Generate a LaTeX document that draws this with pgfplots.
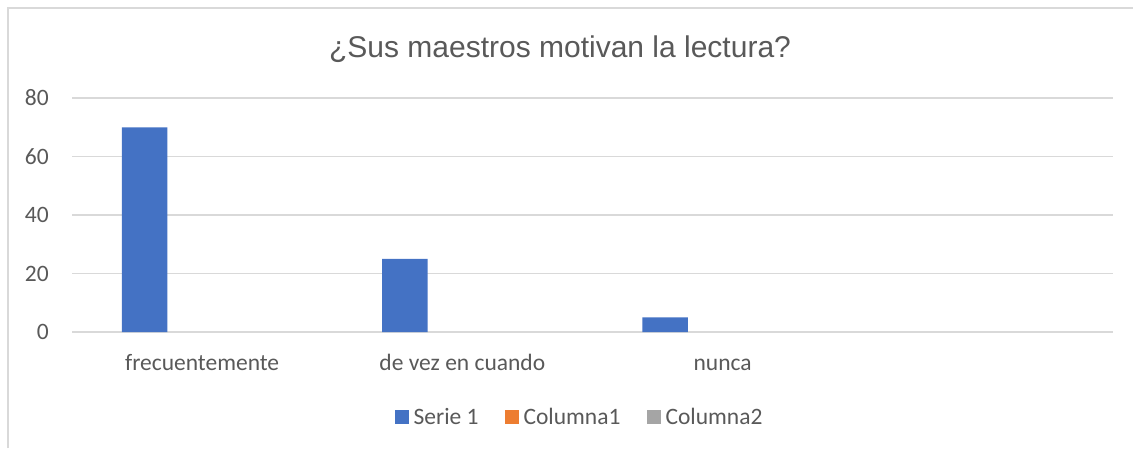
\documentclass[border=0pt]{standalone}
\usepackage{fontspec}
\setmainfont{Carlito}
\newfontfamily\titlefont{Liberation Sans}
\usepackage{pgfplots}
\pgfplotsset{compat=1.18}
\definecolor{serA}{HTML}{4472C4}
\definecolor{serB}{HTML}{ED7D31}
\definecolor{serC}{HTML}{A5A5A5}
\definecolor{txt}{HTML}{595959}
\definecolor{gridc}{HTML}{D9D9D9}
\begin{document}
\begin{tikzpicture}
\path[use as bounding box] (0,0) rectangle (1133pt,448pt);
\draw[gridc, line width=1.5pt] (8pt,0) -- (8pt,440pt) -- (1133pt,440pt);
\node[anchor=base, text=txt, font=\titlefont\fontsize{30}{36}\selectfont]
  at (560pt,390pt) {¿Sus maestros motivan la lectura?};
\begin{axis}[
  at={(72pt,116pt)}, anchor=south west,
  scale only axis, width=1041pt, height=234pt,
  xmin=-0.5, xmax=3.5, ymin=0, ymax=80,
  ytick={0,20,40,60,80},
  xtick={0,1,2},
  xticklabels={frecuentemente, de vez en cuando, nunca},
  axis line style={draw=none},
  major tick length=0pt,
  ymajorgrids,
  grid style={gridc, line width=1.3pt},
  /pgf/number format/assume math mode=true,
  tick label style={text=txt, font=\fontsize{23.5}{28}\selectfont},
  yticklabel style={anchor=east, inner sep=0pt, xshift=-23pt},
  xticklabel style={anchor=base, inner sep=0pt, yshift=-38pt},
  ybar, bar width=45.5pt,
  legend columns=3,
  legend style={draw=none, at={(rel axis cs:0.4866,-0.363)}, anchor=center,
    font=\fontsize{23.5}{28}\selectfont, text=txt,
    column sep=0pt, inner sep=0pt,
    nodes={inner sep=0pt},
    /tikz/column 2/.style={column sep=26pt},
    /tikz/column 4/.style={column sep=26pt}},
  legend image code/.code={\fill[#1] (0pt,-7pt) rectangle (14pt,7pt); \path (19pt,0pt);},
]
% Serie 1 (Columna1 and Columna2 hold no values)
\addplot[fill=serA, draw=none, bar shift=-57.5pt] coordinates {(0,70) (1,25) (2,5)};
\addlegendentry{Serie 1}
\addlegendimage{fill=serB, draw=none}
\addlegendentry{Columna1}
\addlegendimage{fill=serC, draw=none}
\addlegendentry{Columna2}
\end{axis}
\end{tikzpicture}
\end{document}
